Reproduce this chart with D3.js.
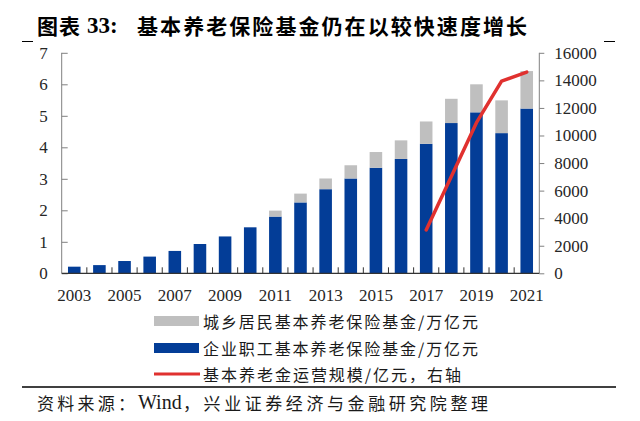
<!DOCTYPE html>
<html><head><meta charset="utf-8">
<script src="https://cdn.jsdelivr.net/npm/d3@7"></script>
<style>
html,body{margin:0;padding:0;background:#fff;}
svg{display:block;}
</style></head>
<body>
<svg id="c" width="640" height="421"></svg>
<script>
// ---- data ----
const years = ["2003","2004","2005","2006","2007","2008","2009","2010","2011","2012","2013","2014","2015","2016","2017","2018","2019","2020","2021"];
const enterpriseFund = [0.21,0.26,0.39,0.53,0.71,0.93,1.17,1.46,1.80,2.25,2.67,3.01,3.35,3.63,4.11,4.77,5.11,4.45,5.23];
const residentFund   = [0,0,0,0,0,0,0,0,0.19,0.28,0.34,0.42,0.50,0.59,0.71,0.77,0.89,1.04,1.19];
const opYears = ["2017","2018","2019","2020","2021"];
const opScale = [3150,7030,10930,13950,14600];
const leftTicks = [0,1,2,3,4,5,6,7];
const rightTicks = [0,2000,4000,6000,8000,10000,12000,14000,16000];
const xLabels = ["2003","2005","2007","2009","2011","2013","2015","2017","2019","2021"];
const titleText = "基本养老保险基金仍在以较快速度增长";
const legendLabels = ["城乡居民基本养老保险基金/万亿元","企业职工基本养老保险基金/万亿元","基本养老金运营规模/亿元，右轴"];
const sourceParts = ["资料来源：", "Wind", "，兴业证券经济与金融研究院整理"];

// ---- layout ----
const X0 = 61.7, X1 = 539.3, Y0 = 273.3, YT = 52.8;
const COL_BLUE = "#033d97", COL_GREY = "#bfbfbf", COL_RED = "#e0312f";
const CJK = "'Noto Sans CJK SC', sans-serif";
const SERIF = "'Liberation Serif', 'Times New Roman', serif";

const svg = d3.select("#c");
const x = d3.scaleBand().domain(years).range([X0, X1]).paddingInner(0.5).paddingOuter(0.25);
const yL = d3.scaleLinear().domain([0,7]).range([Y0, YT]);
const yR = d3.scaleLinear().domain([0,16000]).range([Y0, YT]);

// title
const tg = svg.append("g").attr("fill","#000");
tg.append("text").attr("x",37).attr("y",25).attr("dominant-baseline","central")
  .attr("font-family",CJK).attr("font-weight","bold").attr("font-size",21)
  .attr("textLength",43).attr("lengthAdjust","spacing").text("图表");
tg.append("text").attr("x",87).attr("y",25).attr("dominant-baseline","central")
  .attr("font-family",SERIF).attr("font-weight","bold").attr("font-size",23).text("33:");
tg.append("text").attr("x",137).attr("y",25).attr("dominant-baseline","central")
  .attr("font-family",CJK).attr("font-weight","bold").attr("font-size",21)
  .attr("textLength",390).attr("lengthAdjust","spacing").text(titleText);
svg.append("line").attr("x1",22).attr("x2",33).attr("y1",41.5).attr("y2",41.5).attr("stroke","#000").attr("stroke-width",1);
svg.append("line").attr("x1",604).attr("x2",615).attr("y1",41.5).attr("y2",41.5).attr("stroke","#000").attr("stroke-width",1);

// bars
const bars = svg.append("g");
bars.selectAll("rect.ent").data(years).join("rect")
  .attr("x", d => x(d)).attr("width", x.bandwidth())
  .attr("y", (d,i) => yL(enterpriseFund[i]))
  .attr("height", (d,i) => yL(0) - yL(enterpriseFund[i]))
  .attr("fill", COL_BLUE);
bars.selectAll("rect.res").data(years).join("rect")
  .attr("x", d => x(d)).attr("width", x.bandwidth())
  .attr("y", (d,i) => yL(enterpriseFund[i] + residentFund[i]))
  .attr("height", (d,i) => yL(enterpriseFund[i]) - yL(enterpriseFund[i] + residentFund[i]))
  .attr("fill", COL_GREY);

// left axis
const axL = svg.append("g").attr("transform",`translate(${X0},0)`)
  .call(d3.axisLeft(yL).tickValues(leftTicks).tickSize(-6).tickPadding(14).tickFormat(d3.format("d")));
axL.select(".domain").attr("stroke","#808080").attr("d",`M0,${Y0}V${YT}`);
axL.selectAll(".tick line").attr("stroke","#808080");
axL.selectAll("text").attr("font-family",SERIF).attr("font-size",17).attr("fill","#262626");

// right axis
const axR = svg.append("g").attr("transform",`translate(${X1},0)`)
  .call(d3.axisRight(yR).tickValues(rightTicks).tickSize(5).tickPadding(10).tickFormat(d3.format("d")));
axR.select(".domain").attr("stroke","#808080").attr("d",`M0,${Y0}V${YT}`);
axR.selectAll(".tick line").attr("stroke","#808080");
axR.selectAll("text").attr("font-family",SERIF).attr("font-size",17).attr("fill","#262626");

// x axis
const xa = svg.append("g");
xa.append("line").attr("x1",X0).attr("x2",X1).attr("y1",Y0).attr("y2",Y0).attr("stroke","#333").attr("stroke-width",1.2);
xa.selectAll("line.tk").data(years.slice(1)).join("line")
  .attr("x1", d => x(d) - x.step()*x.paddingInner()/2).attr("x2", d => x(d) - x.step()*x.paddingInner()/2)
  .attr("y1",Y0).attr("y2",Y0-6).attr("stroke","#333").attr("stroke-width",1);
xa.selectAll("text").data(xLabels).join("text")
  .attr("x", d => x(d) + x.bandwidth()/2).attr("y",295).attr("dominant-baseline","central")
  .attr("text-anchor","middle").attr("font-family",SERIF).attr("font-size",17).attr("fill","#262626")
  .text(d => d);

// line
const line = d3.line().x(d => x(d[0]) + x.bandwidth()/2).y(d => yR(d[1]));
svg.append("path").datum(opYears.map((y,i)=>[y,opScale[i]]))
  .attr("d", line).attr("fill","none").attr("stroke",COL_RED).attr("stroke-width",3.5)
  .attr("stroke-linejoin","round").attr("stroke-linecap","round");

// legend
const lg = svg.append("g");
const ly = [321, 348, 374];
const lw = [275, 275, 258];
lg.append("rect").attr("x",154).attr("width",45).attr("y",ly[0]-5).attr("height",10).attr("fill",COL_GREY);
lg.append("rect").attr("x",154).attr("width",45).attr("y",ly[1]-5).attr("height",10).attr("fill",COL_BLUE);
lg.append("line").attr("x1",154).attr("x2",200).attr("y1",ly[2]).attr("y2",ly[2]).attr("stroke",COL_RED).attr("stroke-width",3);
lg.selectAll("text").data(legendLabels).join("text")
  .attr("x",203).attr("y",(d,i)=>ly[i]).attr("dominant-baseline","central")
  .attr("font-family",CJK).attr("font-size",16).attr("fill","#1a1a1a")
  .attr("textLength",(d,i)=>lw[i]).attr("lengthAdjust","spacing")
  .text(d=>d);

// separator + source
svg.append("line").attr("x1",22).attr("x2",616).attr("y1",387).attr("y2",387).attr("stroke","#000").attr("stroke-width",1.3);
const sg = svg.append("g").attr("fill","#1a1a1a");
sg.append("text").attr("x",37).attr("y",402).attr("dominant-baseline","central")
  .attr("font-family",CJK).attr("font-size",17)
  .attr("textLength",98).attr("lengthAdjust","spacing").text(sourceParts[0]);
sg.append("text").attr("x",138).attr("y",402).attr("dominant-baseline","central")
  .attr("font-family",SERIF).attr("font-size",20).text(sourceParts[1]);
sg.append("text").attr("x",183).attr("y",402).attr("dominant-baseline","central")
  .attr("font-family",CJK).attr("font-size",17)
  .attr("textLength",305).attr("lengthAdjust","spacing").text(sourceParts[2]);
</script>
</body></html>
